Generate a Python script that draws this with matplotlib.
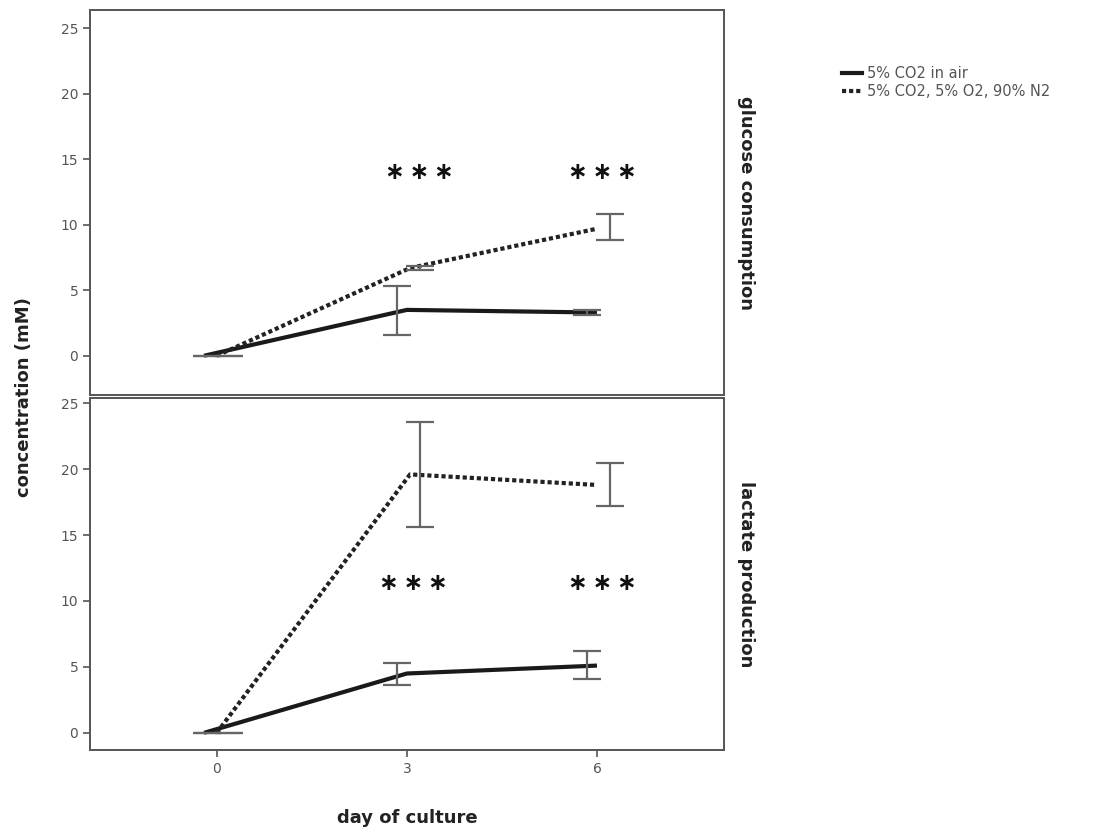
import numpy as np
import matplotlib.pyplot as plt

days = [0, 3, 6]
series_labels = ["5% CO2 in air", "5% CO2, 5% O2, 90% N2"]

# glucose consumption (mM): mean, lower, upper
glu_air = [0.0, 3.5, 3.3]
glu_air_lo = [0.0, 1.6, 3.1]
glu_air_hi = [0.0, 5.3, 3.5]
glu_hyp = [0.0, 6.7, 9.7]
glu_hyp_lo = [0.0, 6.55, 8.8]
glu_hyp_hi = [0.0, 6.85, 10.8]

# lactate production (mM)
lac_air = [0.0, 4.5, 5.1]
lac_air_lo = [0.0, 3.6, 4.1]
lac_air_hi = [0.0, 5.3, 6.2]
lac_hyp = [0.0, 19.6, 18.8]
lac_hyp_lo = [0.0, 15.6, 17.2]
lac_hyp_hi = [0.0, 23.6, 20.5]

# significance marks (day, y)
stars_glu_x = [3.2, 6.08]
stars_glu_y = [14.0, 14.0]
stars_lac_x = [3.1, 6.08]
stars_lac_y = [11.4, 11.4]

fig = plt.figure(figsize=(11.02, 8.36), dpi=100)
ax1 = fig.add_axes([0.0817, 0.5275, 0.575, 0.4605])
ax2 = fig.add_axes([0.0817, 0.1029, 0.575, 0.4211])

frame = "#555555"
ebc = "#666666"


def panel(ax, air, alo, ahi, hyp, hlo, hhi, sx, sy, label, ylim):
    d = np.array(days, dtype=float)
    ax.plot(d + np.array([-0.2, 0.0, 0.0]), air, color="#1a1a1a", lw=3, solid_capstyle="butt")
    ax.plot(d + np.array([0.0, 0.05, 0.0]), hyp, color="#222222", lw=3, linestyle=(0, (1, 0.7)))
    ax.errorbar(d - 0.15, air, yerr=[np.array(air) - np.array(alo), np.array(ahi) - np.array(air)],
                fmt="none", ecolor=ebc, elinewidth=1.6, capsize=10, capthick=1.6)
    ax.errorbar(d + 0.2, hyp, yerr=[np.array(hyp) - np.array(hlo), np.array(hhi) - np.array(hyp)],
                fmt="none", ecolor=ebc, elinewidth=1.6, capsize=10, capthick=1.6)
    for x, y in zip(sx, sy):
        ax.text(x, y, "\u2217\u2009\u2217\u2009\u2217", ha="center", va="center", fontsize=17,
                fontweight="bold", color="#111111")
    ax.set_xlim(-2, 8)
    ax.set_ylim(*ylim)
    ax.set_yticks([0, 5, 10, 15, 20, 25])
    ax.set_xticks(days)
    ax.tick_params(direction="out", length=5, width=1.2, color=frame, labelcolor="#555555", labelsize=10)
    for s in ax.spines.values():
        s.set_color(frame)
        s.set_linewidth(1.4)
    ax.text(1.035, 0.5, label, transform=ax.transAxes, rotation=-90, ha="center", va="center",
            fontsize=13, fontweight="bold", color="#222222")


panel(ax1, glu_air, glu_air_lo, glu_air_hi, glu_hyp, glu_hyp_lo, glu_hyp_hi,
      stars_glu_x, stars_glu_y, "glucose consumption", (-3, 26.4))
panel(ax2, lac_air, lac_air_lo, lac_air_hi, lac_hyp, lac_hyp_lo, lac_hyp_hi,
      stars_lac_x, stars_lac_y, "lactate production", (-1.3, 25.4))
ax1.tick_params(axis="x", bottom=False, labelbottom=False)

fig.text(0.022, 0.525, "concentration (mM)", rotation=90, ha="center", va="center",
         fontsize=13, fontweight="bold", color="#222222")
fig.text(0.37, 0.022, "day of culture", ha="center", va="center",
         fontsize=13, fontweight="bold", color="#222222")

h1, = ax1.plot([], [], color="#1a1a1a", lw=3)
h2, = ax1.plot([], [], color="#222222", lw=3, linestyle=(0, (1, 0.7)))
fig.legend([h1, h2], series_labels, loc="upper left", bbox_to_anchor=(0.752, 0.937),
           frameon=False, fontsize=10.5, labelcolor="#555555", handlelength=1.4,
           handletextpad=0.3, labelspacing=0.2)

fig.savefig("out.png", dpi=100)
